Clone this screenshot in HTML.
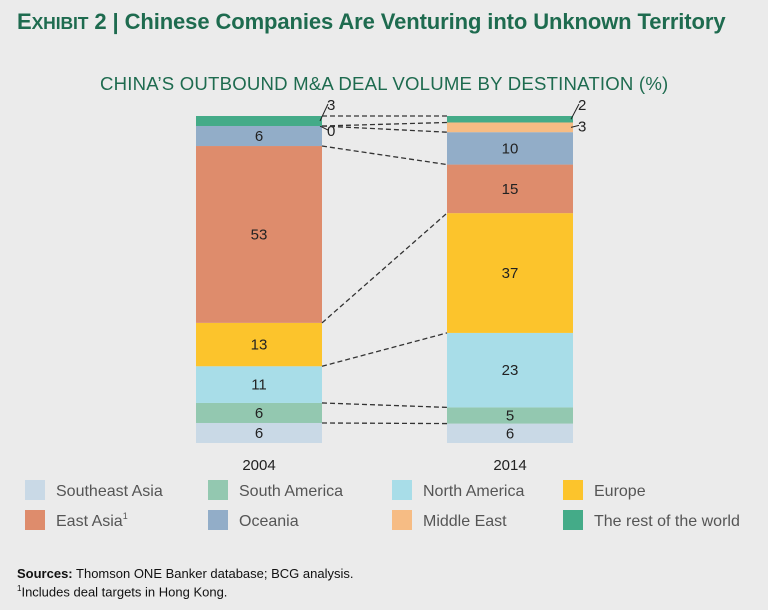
<!DOCTYPE html>
<html><head><meta charset="utf-8"><style>
body{margin:0;background:#ebebeb;}
#root{position:relative;width:768px;height:610px;background:#ebebeb;font-family:"Liberation Sans",sans-serif;overflow:hidden}
.t{position:absolute;white-space:nowrap}
</style></head><body>
<div id="root">
<div class="t" style="left:17px;top:9px;font-size:22px;font-weight:bold;color:#1e6b4f;letter-spacing:-0.1px">E<span style="font-size:17.5px">XHIBIT</span> 2 | Chinese Companies Are Venturing into Unknown Territory</div>
<div class="t" style="left:100px;top:73px;font-size:18.6px;color:#1e6b4f;letter-spacing:0.2px">CHINA’S OUTBOUND M&amp;A DEAL VOLUME BY DESTINATION (%)</div>
<svg id="chart" width="768" height="610" style="position:absolute;left:0;top:0"></svg>
<div class="t" style="left:17px;top:566px;font-size:13px;color:#111"><b>Sources:</b> Thomson ONE Banker database; BCG analysis.</div>
<div class="t" style="left:17px;top:584px;font-size:13px;color:#111"><sup style="font-size:8px">1</sup>Includes deal targets in Hong Kong.</div>
</div>
<script>
const categories=["2004","2014"];
const series=["Southeast Asia","South America","North America","Europe","East Asia","Oceania","Middle East","The rest of the world"];
const values2004=[6,6,11,13,53,6,0,3];
const values2014=[6,5,23,37,15,10,3,2];
const colors=["#c9d9e6","#93c8b0","#a8dde8","#fcc42c","#de8c6c","#92adc8","#f6bc84","#44ab88"];
const NS="http://www.w3.org/2000/svg";
const svg=document.getElementById('chart');
const base=443,top0=116,barW=126,barX=[196,447];
function mk(t,a){const e=document.createElementNS(NS,t);for(const k in a)e.setAttribute(k,a[k]);svg.appendChild(e);return e;}
const all=[values2004,values2014];
const bounds=[];
all.forEach((vals,ci)=>{
  const tot=vals.reduce((a,b)=>a+b,0);
  const y=v=>base-(v/tot)*(base-top0);
  let cum=0;const b=[];
  vals.forEach((v,si)=>{
    const y0=y(cum),y1=y(cum+v);cum+=v;b.push(y1);
    const r=mk('rect',{x:barX[ci],y:y1,width:barW,height:Math.max(0,y0-y1),fill:colors[si]});
    
    
    const tx=mk('text',{'font-size':15,fill:'#222','font-family':'Liberation Sans, sans-serif'});
    
    
    tx.textContent=v;
    if(v>=5){tx.setAttribute('x',barX[ci]+barW/2);tx.setAttribute('y',(y0+y1)/2+5);tx.setAttribute('text-anchor','middle');}
    else{
      const my=(y0+y1)/2;
      const ly=si===series.length-1?top0-8:my+(ci===0?8:2);
      const ln=mk('line',{x1:barX[ci]+barW-2,y1:my,x2:barX[ci]+barW+6,y2:ly-4,stroke:'#222','stroke-width':1});
      
      
      tx.setAttribute('x',barX[ci]+barW+5);tx.setAttribute('y',ly+2);
    }
  });
  bounds.push([base].concat(b));
  const c=mk('text',{x:barX[ci]+barW/2,y:470,'text-anchor':'middle','font-size':15,fill:'#222','font-family':'Liberation Sans, sans-serif'});
  
  
  c.textContent=categories[ci];
});
for(let i=1;i<bounds[0].length;i++){
  const l=mk('line',{x1:barX[0]+barW,y1:bounds[0][i],x2:barX[1],y2:bounds[1][i],stroke:'#333','stroke-width':1.3,'stroke-dasharray':'5,3'});
  
  
}
const lx=[25,208,392,563],ly=[490,520];
series.forEach((name,i)=>{
  const x=lx[i%4],yy=ly[Math.floor(i/4)];
  const r=mk('rect',{x:x,y:yy-10,width:20,height:20,fill:colors[i]});
  
  
  const t=mk('text',{x:x+31,y:yy+6,'font-size':16,fill:'#555','font-family':'Liberation Sans, sans-serif'});
  
  
  t.textContent=name;
  if(i===4){const s=mk('tspan',{'font-size':9,dy:-7});s.textContent='1';t.appendChild(s);}
});
</script>
</body></html>
